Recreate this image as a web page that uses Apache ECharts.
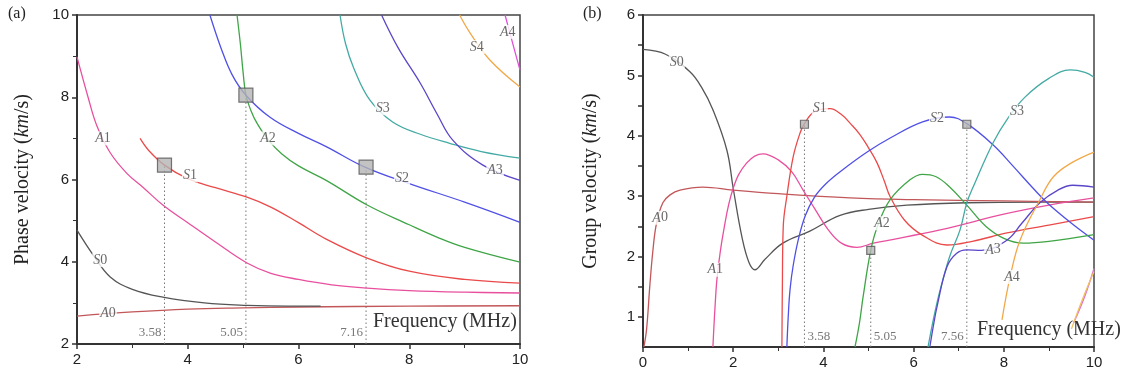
<!DOCTYPE html>
<html><head><meta charset="utf-8">
<script src="https://cdn.jsdelivr.net/npm/echarts@6/dist/echarts.min.js"></script>
<style>html,body{margin:0;padding:0;background:#fff}#c{width:1126px;height:376px}</style>
</head><body><div id="c"></div>
<script>
// ---------- Panel (a): phase velocity ----------
const a_A0 = [[2,2.68],[3,2.78],[4,2.85],[5,2.88],[6,2.9],[8,2.92],[10,2.93]];
const a_S0 = [[2,4.77],[2.3,4.15],[2.6,3.63],[3,3.33],[3.55,3.14],[4.3,3.0],[5.07,2.94],[5.8,2.92],[6.4,2.92]];
const a_A1 = [[2,8.98],[2.2,8.0],[2.36,7.3],[2.6,6.65],[2.9,6.15],[3.2,5.8],[3.55,5.38],[4,4.95],[4.5,4.48],[5.07,3.97],[5.5,3.72],[6,3.57],[6.6,3.44],[7.24,3.36],[8,3.3],[9,3.26],[10,3.24]];
const a_S1 = [[3.14,7.0],[3.3,6.7],[3.58,6.35],[4,6.02],[4.5,5.8],[5.07,5.57],[5.5,5.33],[6,4.95],[6.5,4.55],[7.24,4.09],[8,3.77],[9,3.57],[10,3.48]];
const a_A2 = [[4.89,10],[4.95,9.3],[5.0,8.6],[5.05,8.05],[5.14,7.68],[5.25,7.37],[5.45,6.97],[5.7,6.62],[6.0,6.33],[6.5,5.98],[7.24,5.38],[8,4.9],[8.5,4.6],[9,4.35],[10,3.99]];
const a_S2 = [[4.4,10],[4.6,9.2],[4.8,8.55],[5.05,8.05],[5.48,7.52],[6,7.12],[6.5,6.8],[7.2,6.3],[8,5.9],[9,5.45],[10,4.96]];
const a_S3 = [[6.75,10],[6.85,9.3],[7.0,8.7],[7.29,7.93],[7.7,7.4],[8.2,7.1],[8.73,6.88],[9.3,6.68],[10,6.52]];
const a_A3 = [[7.5,10],[7.8,9.2],[8.2,8.34],[8.5,7.6],[8.79,6.95],[9.33,6.35],[10,5.98]];
const a_S4 = [[8.91,10],[9.1,9.56],[9.46,8.9],[10,8.25]];
const a_A4 = [[9.73,10],[9.85,9.4],[10,8.66]];
const a_boxes = [[3.58,6.35],[5.05,8.05],[7.22,6.3]];
const a_boxLabels = ['3.58','5.05','7.16'];
const a_curveLabels = [[2.56,2.75,'A0'],[2.42,4.04,'S0'],[2.47,7.0,'A1'],[4.04,6.1,'S1'],[5.45,7.0,'A2'],[7.87,6.03,'S2'],[7.52,7.73,'S3'],[9.55,6.23,'A3'],[9.22,9.22,'S4'],[9.78,9.59,'A4']];
const a_xTicks = [2,4,6,8,10];
const a_yTicks = [2,4,6,8,10];

// ---------- Panel (b): group velocity ----------
const b_S0 = [[0,5.43],[0.5,5.35],[1.04,5.06],[1.3,4.8],[1.55,4.43],[1.86,3.76],[2.0,3.13],[2.2,2.3],[2.35,1.9],[2.48,1.78],[2.7,1.95],[3.1,2.22],[3.7,2.42],[4.37,2.68],[5,2.78],[5.85,2.85],[7.18,2.89],[8.8,2.9],[10,2.9]];
const b_A0 = [[0.02,0.5],[0.08,0.8],[0.15,1.5],[0.22,2.1],[0.3,2.55],[0.44,2.89],[0.6,3.02],[0.82,3.1],[1.33,3.15],[2,3.1],[3,3.04],[4.59,2.97],[6,2.94],[8,2.92],[10,2.9]];
const b_A1 = [[1.55,0.5],[1.6,1.2],[1.65,1.7],[1.78,2.39],[2.0,3.13],[2.3,3.55],[2.66,3.7],[3.0,3.6],[3.3,3.4],[3.55,3.1],[3.8,2.8],[4.1,2.45],[4.4,2.22],[4.74,2.15],[5.11,2.22],[6.59,2.44],[8,2.7],[9,2.85],[10,2.97]];
const b_S1 = [[3.08,0.5],[3.09,1.5],[3.11,2.5],[3.19,3.0],[3.33,3.65],[3.48,4.04],[3.58,4.2],[3.8,4.4],[4.15,4.45],[4.4,4.35],[4.6,4.2],[4.81,4.02],[5.0,3.8],[5.19,3.55],[5.35,3.25],[5.48,2.99],[5.8,2.6],[6.2,2.35],[6.74,2.19],[7.3,2.25],[8.07,2.39],[9,2.52],[10,2.66]];
const b_S2 = [[3.19,0.5],[3.22,1.0],[3.26,1.45],[3.33,1.85],[3.45,2.3],[3.6,2.68],[3.8,2.98],[4.05,3.2],[4.4,3.42],[4.97,3.73],[5.5,3.97],[6.2,4.23],[6.8,4.31],[7.18,4.2],[7.76,3.85],[8.2,3.5],[8.65,3.13],[8.96,2.89],[9.5,2.55],[10,2.27]];
const b_A2 = [[4.7,0.5],[4.8,0.9],[4.88,1.33],[5.05,2.1],[5.2,2.5],[5.48,2.94],[5.92,3.27],[6.2,3.36],[6.5,3.32],[6.8,3.15],[7.18,2.85],[7.6,2.5],[8.0,2.3],[8.43,2.22],[9,2.25],[10,2.36]];
const b_S3 = [[6.32,0.5],[6.45,1.0],[6.59,1.45],[6.8,2.0],[7.03,2.44],[7.18,2.89],[7.32,3.15],[7.76,3.88],[8.1,4.3],[8.47,4.64],[9.0,4.95],[9.47,5.09],[9.8,5.05],[10,4.97]];
const b_A3 = [[6.36,0.5],[6.45,0.9],[6.52,1.17],[6.74,1.83],[6.95,2.05],[7.18,2.11],[7.5,2.1],[8.07,2.27],[8.4,2.55],[8.8,2.89],[9.2,3.1],[9.53,3.18],[10,3.15]];
const b_A4 = [[7.96,0.95],[8.14,1.66],[8.36,2.27],[8.8,2.94],[9.1,3.32],[9.5,3.55],[10,3.73]];
const b_S4 = [[9.55,0.9],[9.8,1.35],[10,1.8]];
const b_A5 = [[9.5,0.8],[9.75,1.3],[10,1.75]];
const b_boxes = [[3.58,4.19],[5.05,2.1],[7.18,4.19]];
const b_boxLabels = ['3.58','5.05','7.56'];
const b_boxLabelSide = ['right','right','left'];
const b_curveLabels = [[0.75,5.22,'S0'],[3.92,4.46,'S1'],[6.52,4.29,'S2'],[8.29,4.4,'S3'],[0.38,2.64,'A0'],[1.6,1.78,'A1'],[5.3,2.55,'A2'],[7.76,2.11,'A3'],[8.18,1.66,'A4']];
const b_yTicks = [1,2,3,4,5,6];
const b_yTickMarks = [1,1.5,2,2.5,3,3.5,4,4.5,5,5.5,6];

const colors = {A0:'#c2575a',S0:'#555555',A1:'#e8509e',S1:'#ea4a4a',A2:'#3fa546',S2:'#5050e6',S3:'#44aaa4',A3:'#5a46c8',S4:'#f2a848',A4:'#e050d8'};

const serif = 'Liberation Serif, Times New Roman, serif';
const sans = 'Liberation Sans, Arial, sans-serif';

function curve(data, color, xi, yi){
  return {type:'line', data:data, xAxisIndex:xi, yAxisIndex:yi, smooth:0.4, showSymbol:false, symbol:'none',
    lineStyle:{color:color, width:1.3}, silent:true, z:2};
}
function dotted(boxes, ymin, xi, yi){
  return boxes.map(b => ({type:'line', data:[[b[0],ymin],[b[0],b[1]]], xAxisIndex:xi, yAxisIndex:yi, symbol:'none',
    lineStyle:{color:'#777', width:1, type:[1.5,2.5]}, silent:true, z:1}));
}
function boxSeries(boxes, size, xi, yi){
  return {type:'scatter', data:boxes, xAxisIndex:xi, yAxisIndex:yi, symbol:'rect', symbolSize:size,
    itemStyle:{color:'#b4b4b4', borderColor:'#555', borderWidth:1.2}, z:5, silent:true};
}
function curveLabels(list, xi, yi, fs){
  return {type:'scatter', xAxisIndex:xi, yAxisIndex:yi, symbolSize:0, z:4, silent:true,
    data:list.map(l => ({value:[l[0],l[1]], name:l[2]})),
    label:{show:true, position:'inside', formatter:p => '{i|'+p.name[0]+'}{n|'+p.name.slice(1)+'}',
      backgroundColor:'#fff', padding:[0,1],
      rich:{i:{fontFamily:serif, fontStyle:'italic', fontSize:fs, color:'#444'}, n:{fontFamily:serif, fontSize:fs, color:'#444'}}}};
}
function valueLabels(boxes, texts, ypos, sides, xi, yi){
  return {type:'scatter', xAxisIndex:xi, yAxisIndex:yi, symbolSize:0, z:4, silent:true,
    data:boxes.map((b,i) => ({value:[b[0], ypos], name:texts[i], label:{position:sides[i], distance:3}})),
    label:{show:true, formatter:p => p.name, fontFamily:serif, fontSize:13, color:'#555'}};
}

const series = [];
// panel a
[['A0',a_A0],['S0',a_S0],['A1',a_A1],['S1',a_S1],['A2',a_A2],['S2',a_S2],['S3',a_S3],['A3',a_A3],['S4',a_S4],['A4',a_A4]]
  .forEach(([k,d]) => series.push(curve(d, colors[k], 0, 0)));
series.push(...dotted(a_boxes, 2, 0, 0));
series.push(boxSeries(a_boxes, 14, 0, 0));
series.push(curveLabels(a_curveLabels, 0, 0, 14));
series.push(valueLabels(a_boxes, a_boxLabels, 2.27, ['left','left','left'], 0, 0));
// panel b
[['S0',b_S0],['A0',b_A0],['A1',b_A1],['S1',b_S1],['S2',b_S2],['A2',b_A2],['S3',b_S3],['A3',b_A3],['S4',b_A4]]
  .forEach(([k,d]) => series.push(curve(d, colors[k], 1, 1)));
series.push(curve(b_S4, '#e070d0', 1, 1));
series.push(curve(b_A5, '#f0c060', 1, 1));
series.push(...dotted(b_boxes, 0.5, 1, 1));
series.push(boxSeries(b_boxes, 8, 1, 1));
series.push(curveLabels(b_curveLabels, 1, 1, 14));
series.push(valueLabels(b_boxes, b_boxLabels, 0.68, b_boxLabelSide, 1, 1));

const axisLine = {show:true, lineStyle:{color:'#333', width:2}};
const tickLbl = {fontFamily:sans, fontSize:15, color:'#222', fontWeight:500};
const yName = t => '{n|'+t+' (}{i|km}{n|/s)}';
const nameRich = {n:{fontFamily:serif, fontSize:20, color:'#222'}, i:{fontFamily:serif, fontSize:20, fontStyle:'italic', color:'#222'}};

const option = {
  animation:false,
  backgroundColor:'#fff',
  grid:[
    {left:77, top:15, width:443, height:329, show:true, borderColor:'#444', borderWidth:1.5},
    {left:643, top:15, width:451, height:332, show:true, borderColor:'#444', borderWidth:1.5}
  ],
  xAxis:[
    {type:'value', gridIndex:0, min:2, max:10, interval:2, axisLine:axisLine,
      axisTick:{show:true, inside:false, length:5, lineStyle:{color:'#333', width:1.5}},
      minorTick:{show:true, splitNumber:2, length:4, lineStyle:{color:'#333'}},
      splitLine:{show:false}, axisLabel:Object.assign({margin:8, customValues:a_xTicks}, tickLbl)},
    {type:'value', gridIndex:1, min:0, max:10, interval:2, axisLine:axisLine,
      axisTick:{show:true, inside:false, length:5, lineStyle:{color:'#333', width:1.5}},
      minorTick:{show:true, splitNumber:2, length:4, lineStyle:{color:'#333'}},
      splitLine:{show:false}, axisLabel:Object.assign({margin:8}, tickLbl)}
  ],
  yAxis:[
    {type:'value', gridIndex:0, min:2, max:10, interval:2, axisLine:axisLine,
      axisTick:{show:true, length:5, lineStyle:{color:'#333', width:1.5}},
      minorTick:{show:true, splitNumber:2, length:4, lineStyle:{color:'#333'}},
      splitLine:{show:false}, axisLabel:Object.assign({margin:8, customValues:a_yTicks}, tickLbl),
      name:yName('Phase velocity'), nameLocation:'middle', nameGap:44, nameTextStyle:{rich:nameRich}},
    {type:'value', gridIndex:1, position:'left', min:0.5, max:6, axisLine:axisLine,
      axisTick:{show:true, length:5, customValues:b_yTickMarks, lineStyle:{color:'#333', width:1.5}},
      splitLine:{show:false}, axisLabel:Object.assign({margin:8, customValues:b_yTicks}, tickLbl),
      name:yName('Group velocity'), nameLocation:'middle', nameGap:42, nameTextStyle:{rich:nameRich}}
  ],
  graphic:[
    {type:'text', left:8, top:6, style:{text:'(a)', font:'16px '+serif, fill:'#222'}},
    {type:'text', left:583, top:6, style:{text:'(b)', font:'16px '+serif, fill:'#222'}},
    {type:'text', left:373, top:312, style:{text:'Frequency (MHz)', font:'20px '+serif, fill:'#333'}},
    {type:'text', left:977, top:320, style:{text:'Frequency (MHz)', font:'20px '+serif, fill:'#333'}}
  ],
  series:series
};
echarts.init(document.getElementById('c')).setOption(option);
</script></body></html>
